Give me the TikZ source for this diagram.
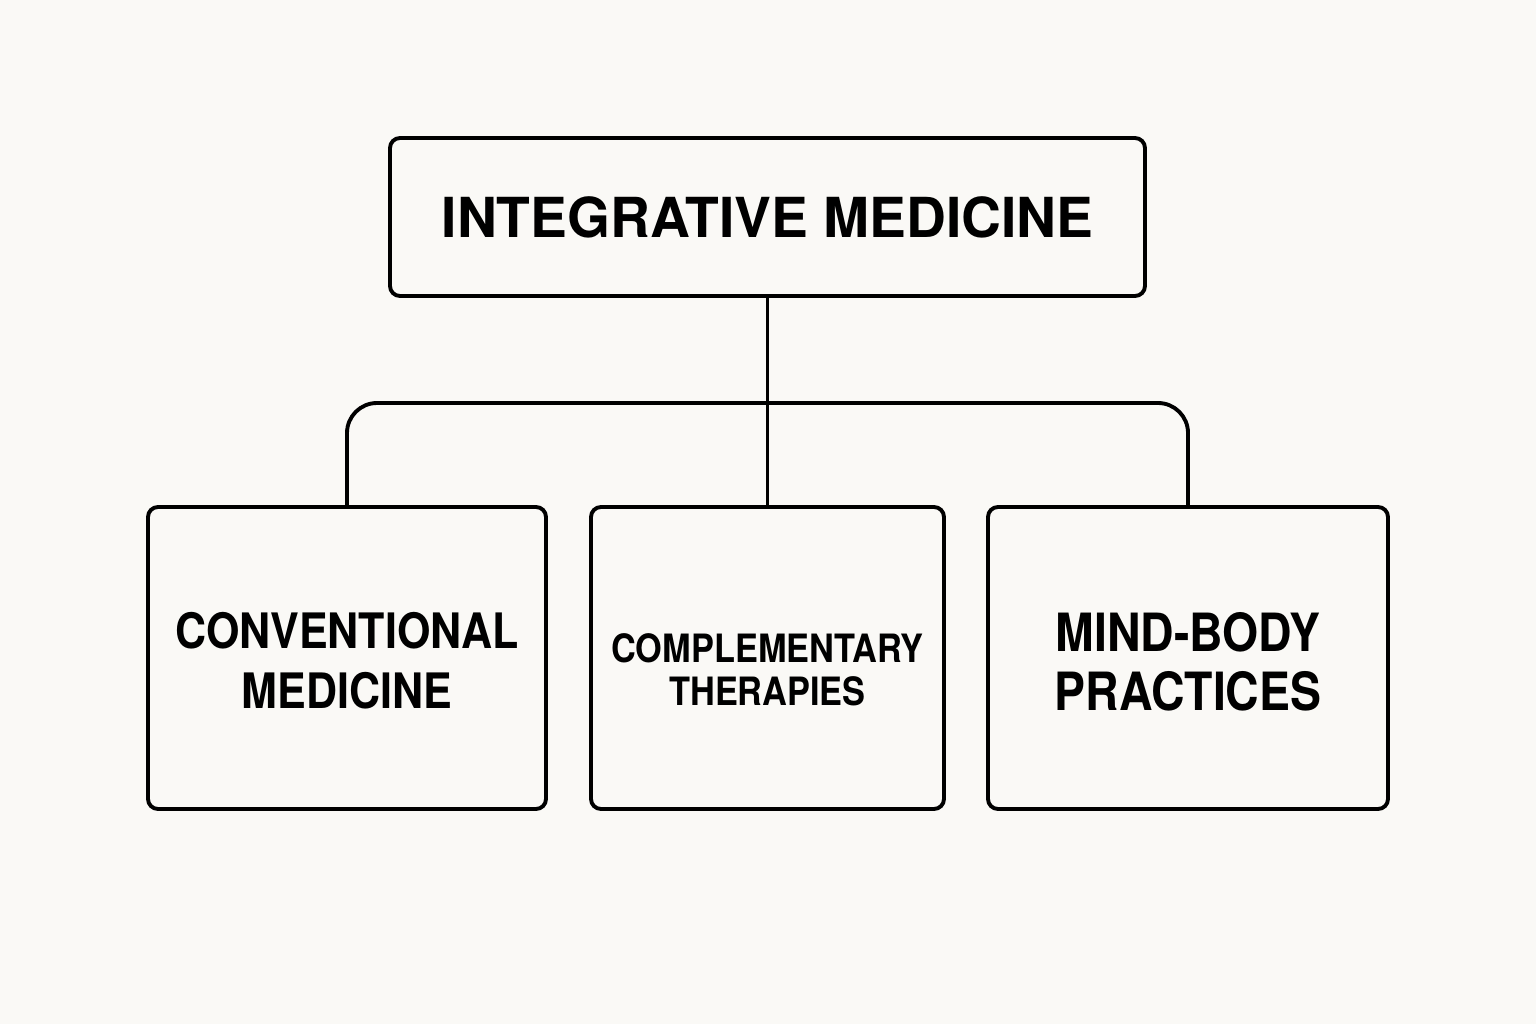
\documentclass[tikz,border=0pt]{standalone}
\usepackage{fontspec}
\newfontfamily\titlefont{TeX Gyre Heros}
\newfontfamily\boxfont{TeX Gyre Heros}[FakeStretch=0.88]
\usetikzlibrary{positioning}
\definecolor{paper}{RGB}{250,249,246}

\tikzset{
	box/.style={draw, line width=1.1pt, rounded corners=0.1cm, align=center, inner sep=0pt},
	link/.style={line width=1.1pt, rounded corners=0.3cm}
}

\begin{document}
\begin{tikzpicture}
			\fill[paper] (0,0) rectangle (15.36,10.24);
			\useasboundingbox (0,0) rectangle (15.36,10.24);
			\node[box, minimum width=7.55cm, minimum height=1.58cm, font=\titlefont\bfseries\fontsize{15.7}{19}\selectfont] (im) at (7.675,8.07) {INTEGRATIVE MEDICINE};
			\node[box, minimum width=3.98cm, minimum height=3.02cm, text height=28.7pt, text depth=0pt, font=\boxfont\bfseries\fontsize{13.9}{17}\selectfont] (cm) at (3.47,3.66) {CONVENTIONAL\\MEDICINE};
			\node[box, minimum width=3.53cm, minimum height=3.02cm, text height=27.3pt, text depth=0pt, font=\boxfont\bfseries\fontsize{11.1}{12.5}\selectfont] (ct) at (7.675,3.66) {COMPLEMENTARY\\THERAPIES};
			\node[box, minimum width=4.0cm, minimum height=3.02cm, text height=29.8pt, text depth=0pt, font=\boxfont\bfseries\fontsize{15}{16.8}\selectfont] (mb) at (11.88,3.66) {MIND-BODY\\PRACTICES};
			\coordinate (bar) at (7.675,6.21);
			\draw[link] (im.south) -- (ct.north);
			\draw[link] (cm.north) |- (bar) -| (mb.north);
		\end{tikzpicture}
\end{document}
